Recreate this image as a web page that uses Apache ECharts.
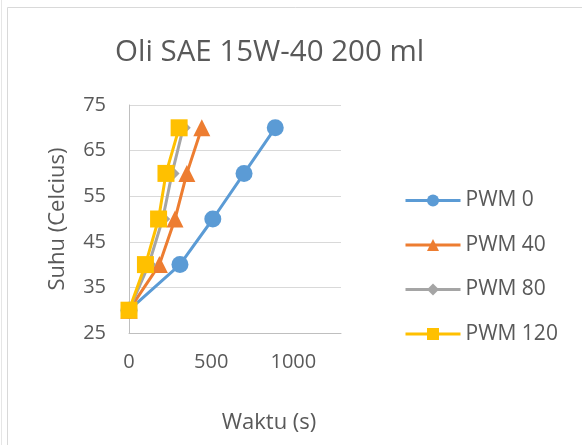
<!DOCTYPE html>
<html>
<head>
<meta charset="utf-8">
<script src="https://cdn.jsdelivr.net/npm/echarts@6/dist/echarts.min.js"></script>
<style>
  html, body { margin: 0; padding: 0; background: #fff; }
  #chart { width: 582px; height: 445px; }
</style>
</head>
<body>
<div id="chart"></div>
<script>
// Heating time (s) vs oil temperature (°C) for each PWM setting
const temps = [30, 40, 50, 60, 70];
const pwm0 = [0, 310, 510, 700, 890];
const pwm40 = [0, 185, 280, 352, 443];
const pwm80 = [0, 120, 205, 262, 330];
const pwm120 = [0, 100, 180, 225, 305];
const seriesNames = ['PWM 0', 'PWM 40', 'PWM 80', 'PWM 120'];
const xTicks = [0, 500, 1000];
const yTicks = [25, 35, 45, 55, 65, 75];

const font = 'Open Sans';
const textColor = '#595959';

function pairs(times) {
  return times.map((t, i) => [t, temps[i]]);
}

const styles = [
  { color: '#5b9bd5', symbol: 'circle', size: 17 },
  { color: '#ed7d31', symbol: 'triangle', size: 17 },
  { color: '#a5a5a5', symbol: 'diamond', size: 15 },
  { color: '#ffc000', symbol: 'rect', size: 17 }
];
const values = [pwm0, pwm40, pwm80, pwm120];

const chart = echarts.init(document.getElementById('chart'));
chart.setOption({
  animation: false,
  backgroundColor: '#fff',
  graphic: [
    { type: 'rect', shape: { x: 7.5, y: 7.5, width: 600, height: 460 },
      style: { fill: 'none', stroke: '#d9d9d9', lineWidth: 1 }, silent: true },
    { type: 'line', shape: { x1: 1.5, y1: 0, x2: 1.5, y2: 445 },
      style: { stroke: '#e6e6e6', lineWidth: 1 }, silent: true },
    { type: 'text', x: 269, y: 423,
      style: { text: 'Waktu (s)', font: '22px "Open Sans"', fill: textColor,
               align: 'center', verticalAlign: 'middle' }, silent: true },
    { type: 'text', x: 58, y: 219, rotation: Math.PI / 2,
      style: { text: 'Suhu (Celcius)', font: '22px "Open Sans"', fill: textColor,
               align: 'center', verticalAlign: 'middle' }, silent: true }
  ],
  title: {
    text: 'Oli SAE 15W-40 200 ml',
    left: 110,
    top: 33,
    textStyle: { fontFamily: font, fontSize: 29.5, fontWeight: 'normal', color: textColor }
  },
  legend: {
    orient: 'vertical',
    left: 399,
    top: 185,
    itemGap: 23.5,
    itemWidth: 55,
    itemHeight: 15,
    lineStyle: { width: 3 },
    textStyle: { fontFamily: font, fontSize: 21, color: textColor },
    data: seriesNames
  },
  grid: { left: 129, right: 241, top: 105, bottom: 112 },
  xAxis: {
    type: 'value',
    min: 0,
    max: 1290,
    interval: 500,
    axisLine: { show: true, lineStyle: { color: '#bfbfbf', width: 1 } },
    axisTick: { show: false },
    splitLine: { show: false },
    axisLabel: {
      showMaxLabel: false,
      margin: 19,
      fontFamily: font, fontSize: 20, color: textColor,
      formatter: v => xTicks.includes(v) ? String(v) : ''
    }
  },
  yAxis: {
    type: 'value',
    min: 25,
    max: 75,
    interval: 10,
    axisLine: { show: true, lineStyle: { color: '#bfbfbf', width: 1 } },
    axisTick: { show: false },
    splitLine: { show: true, lineStyle: { color: '#d9d9d9', width: 1 } },
    axisLabel: {
      margin: 23,
      fontFamily: font, fontSize: 20, color: textColor,
      formatter: v => yTicks.includes(v) ? String(v) : ''
    }
  },
  series: seriesNames.map((name, i) => ({
    name,
    type: 'line',
    data: pairs(values[i]),
    symbol: styles[i].symbol,
    symbolSize: styles[i].size,
    showAllSymbol: true,
    itemStyle: { color: styles[i].color },
    lineStyle: { color: styles[i].color, width: 3 },
    z: 2 + i
  }))
});
</script>
</body>
</html>
